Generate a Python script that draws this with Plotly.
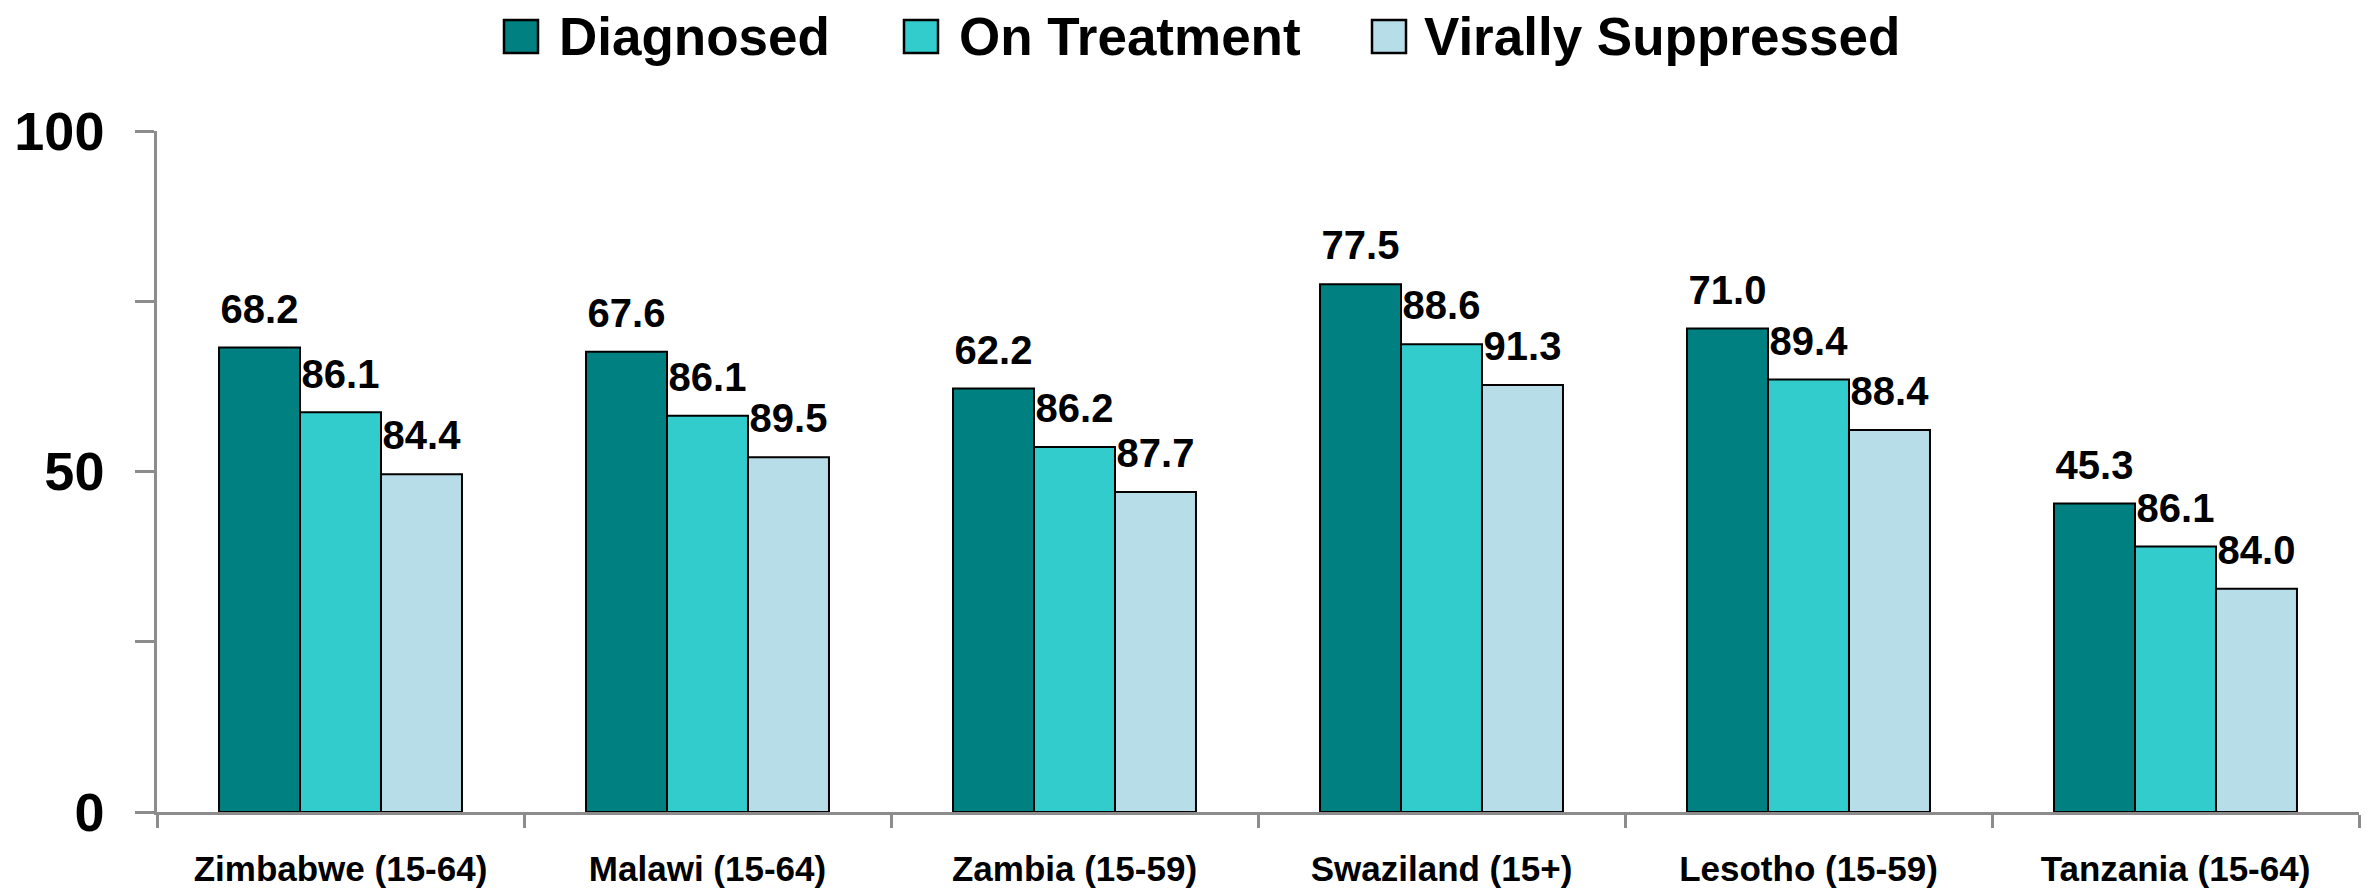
import plotly.graph_objects as go

countries = ["Zimbabwe (15-64)", "Malawi (15-64)", "Zambia (15-59)",
             "Swaziland (15+)", "Lesotho (15-59)", "Tanzania (15-64)"]

# bar heights
diagnosed_h = [68.2, 67.6, 62.2, 77.5, 71.0, 45.3]
treatment_h = [58.7, 58.2, 53.6, 68.7, 63.5, 39.0]
suppressed_h = [49.6, 52.1, 47.0, 62.7, 56.1, 32.8]

# printed labels (conditional percentages)
diagnosed_lbl = ["68.2", "67.6", "62.2", "77.5", "71.0", "45.3"]
treatment_lbl = ["86.1", "86.1", "86.2", "88.6", "89.4", "86.1"]
suppressed_lbl = ["84.4", "89.5", "87.7", "91.3", "88.4", "84.0"]

series_names = ["Diagnosed", "On Treatment", "Virally Suppressed"]
series_colors = ["#008080", "#33CCCC", "#B7DEE8"]

FONT = "Liberation Sans, Arial, sans-serif"
# page body has an 8px margin, so the figure is sized to fit the window
W, H = 2361, 880
L, R, T, B = 149, 10, 123, 76

fig = go.Figure()
heights = [diagnosed_h, treatment_h, suppressed_h]
labels = [diagnosed_lbl, treatment_lbl, suppressed_lbl]
for i, (name, h, col) in enumerate(zip(series_names, heights, series_colors)):
    fig.add_trace(go.Bar(
        name=name, x=countries, y=h, offsetgroup=str(i),
        marker=dict(color=col, line=dict(color="black", width=2)),
        showlegend=False,
    ))
for i, (name, h, lbl) in enumerate(zip(series_names, heights, labels)):
    fig.add_trace(go.Scatter(
        name=name, x=countries, y=h, text=lbl, offsetgroup=str(i),
        mode="markers+text", textposition="top center",
        marker=dict(size=22, opacity=0),
        textfont=dict(family=FONT, size=40, color="black", weight="bold"),
        cliponaxis=False, showlegend=False, hoverinfo="skip",
    ))

# legend drawn as boxes + texts above the plot (pixel positions converted to paper)
pw, ph = W - L - R, H - T - B
def px(x):
    return (x - L) / pw
def py(y):
    return (H - B - y) / ph

box_left = [496, 896, 1364]
text_left = [549, 949, 1414]
shapes, annotations = [], []
for name, col, bx, tx in zip(series_names, series_colors, box_left, text_left):
    shapes.append(dict(type="rect", xref="paper", yref="paper",
                       x0=px(bx), x1=px(bx + 34), y0=py(45), y1=py(12),
                       fillcolor=col, line=dict(color="black", width=2.5)))
    annotations.append(dict(text=name, xref="paper", yref="paper",
                            x=px(tx), y=py(28), xanchor="left", yanchor="middle",
                            showarrow=False,
                            font=dict(family=FONT, size=53, color="black", weight="bold")))

fig.update_layout(
    width=W, height=H,
    paper_bgcolor="white", plot_bgcolor="white",
    barmode="group", bargap=0.338, bargroupgap=0,
    scattermode="group", scattergap=0.338,
    margin=dict(l=L, r=R, t=T, b=B),
    font=dict(family=FONT, color="black", weight="bold"),
    showlegend=False, shapes=shapes, annotations=annotations,
)
fig.update_yaxes(
    range=[0, 100], tickvals=[0, 25, 50, 75, 100], ticktext=["0", "", "50", "", "100"],
    showline=True, linecolor="#8c8c8c", linewidth=2.5, ticks="outside", ticklen=19,
    tickwidth=2.5, tickcolor="#8c8c8c", showgrid=False, zeroline=False,
    tickfont=dict(family=FONT, size=54, color="black", weight="bold"),
    ticklabelstandoff=20, automargin=False,
)
fig.update_xaxes(
    showline=True, linecolor="#8c8c8c", linewidth=2.5, ticks="outside", ticklen=13,
    tickwidth=2.5, tickcolor="#8c8c8c", tickson="boundaries", showgrid=False,
    tickangle=0,
    tickfont=dict(family=FONT, size=35, color="black", weight="bold"),
    ticklabelstandoff=24, automargin=False,
)

fig.write_html("out.html")
